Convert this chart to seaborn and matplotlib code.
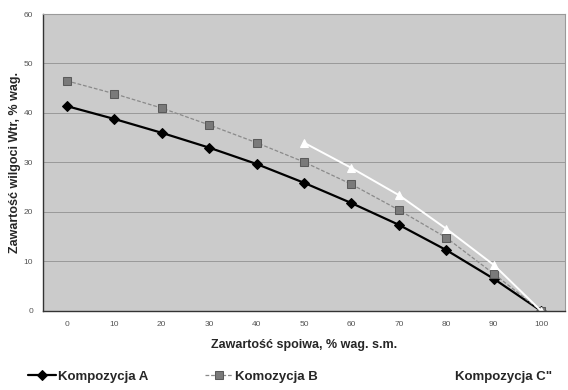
import matplotlib
matplotlib.use("Agg")
import matplotlib.pyplot as plt
import seaborn as sns
import pandas as pd
import numpy as np

x_vals = [0, 10, 20, 30, 40, 50, 60, 70, 80, 90, 100]
comp_a = [41.4, 38.8, 36.0, 33.0, 29.7, 25.9, 21.8, 17.4, 12.3, 6.5, 0.0]
comp_b = [46.5, 43.9, 41.0, 37.6, 34.0, 30.1, 25.6, 20.4, 14.8, 7.5, 0.0]
x_c = [50, 60, 70, 80, 90, 100]
comp_c = [34.0, 28.9, 23.4, 16.6, 9.3, 0.0]
x_ticks = [0, 10, 20, 30, 40, 50, 60, 70, 80, 90, 100]
y_ticks = [0, 10, 20, 30, 40, 50, 60]

sns.set_theme(style="white")
plt.rcParams['font.family'] = ['Liberation Sans', 'DejaVu Sans']

fig = plt.figure(figsize=(5.68, 3.9), dpi=100)
ax = fig.add_axes([0.0757, 0.2026, 0.919, 0.7615])
ax.set_facecolor('#cbcbcb')

sns.lineplot(x=x_vals, y=comp_a, ax=ax, color='black', linewidth=1.6,
             marker='D', markersize=5, markeredgecolor='black',
             label='Kompozycja A')
sns.lineplot(x=x_vals, y=comp_b, ax=ax, color='#8a8a8a', linewidth=0.9,
             linestyle=(0, (3, 1.5)), marker='s', markersize=5.5,
             markerfacecolor='#7a7a7a', markeredgecolor='#5a5a5a',
             label='Komozycja B')
sns.lineplot(x=x_c, y=comp_c, ax=ax, color='white', linewidth=1.4,
             marker='^', markersize=5.5, markerfacecolor='white',
             markeredgecolor='white', label='Kompozycja C"')

ax.set_xlim(-5, 105)
ax.set_ylim(0, 60)
ax.set_xticks(x_ticks)
ax.set_yticks(y_ticks)
ax.tick_params(axis='both', labelsize=6, colors='#555555', length=0, pad=7)
ax.yaxis.grid(True, color='#999999', linewidth=0.7)
ax.xaxis.grid(False)
for s in ['top', 'right']:
    ax.spines[s].set_color('#9a9a9a')
    ax.spines[s].set_linewidth(0.8)
for s in ['left', 'bottom']:
    ax.spines[s].set_color('#333333')
    ax.spines[s].set_linewidth(1.0)

ax.set_xlabel('Zawartość spoiwa, % wag. s.m.', fontsize=9, fontweight='bold',
              labelpad=8)
ax.set_ylabel('Zawartość wilgoci Wtr, % wag.', fontsize=9, fontweight='bold',
              labelpad=2)

handles, labels = ax.get_legend_handles_labels()
ax.get_legend().remove()
x_anchor = [28 / 568, 205 / 568, 425 / 568]
for h, lab, xa in zip(handles, labels, x_anchor):
    fig.legend([h], [lab], loc='lower left', frameon=False,
               bbox_to_anchor=(xa, 0.018), borderpad=0, borderaxespad=0,
               handlelength=2.1, handletextpad=0.2,
               prop={'size': 9.5, 'weight': 'bold'})

fig.savefig('out.png', dpi=100)
